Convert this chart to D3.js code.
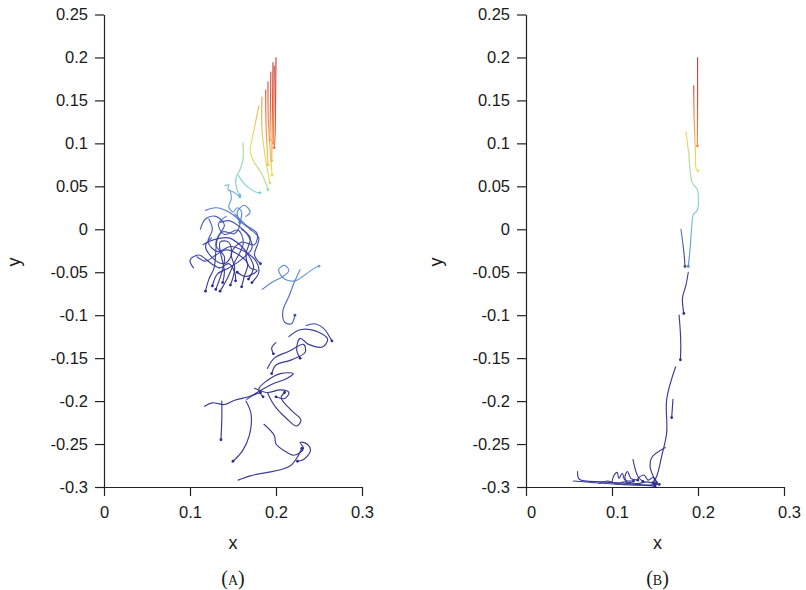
<!DOCTYPE html>
<html><head><meta charset="utf-8">
<script src="https://cdn.jsdelivr.net/npm/d3@7"></script>
<style>body{margin:0;background:#fff}</style></head>
<body><svg id="c" width="806" height="590"></svg>
<script>
// ---------- data ----------
const xTicks = [0, 0.1, 0.2, 0.3];
const xTickLabels = ["0", "0.1", "0.2", "0.3"];
const yTicks = [0.25, 0.2, 0.15, 0.1, 0.05, 0, -0.05, -0.1, -0.15, -0.2, -0.25, -0.3];
const yTickLabels = ["0.25", "0.2", "0.15", "0.1", "0.05", "0", "-0.05", "-0.1", "-0.15", "-0.2", "-0.25", "-0.3"];
const panelLabels = ["(a)", "(b)"];
const axisTitles = ["x", "y"];

// Panel A trajectories (x, y) and time fraction at start/end
const pathsA = [
  [[0.2,0.2],[0.1995,0.15],[0.199,0.11],[0.198,0.095]],
  [[0.1965,0.194],[0.196,0.15],[0.1955,0.11],[0.195,0.08]],
  [[0.194,0.183],[0.1935,0.14],[0.193,0.104]],
  [[0.1907,0.1715],[0.191,0.13],[0.193,0.095],[0.1955,0.063]],
  [[0.188,0.162],[0.1885,0.12],[0.1907,0.075]],
  [[0.198,0.19],[0.1975,0.14],[0.197,0.1]],
  [[0.1837,0.154],[0.1837,0.1157],[0.188,0.0808],[0.193,0.054]],
  [[0.18,0.1436],[0.1756,0.1215],[0.172,0.104],[0.17,0.0924],[0.173,0.081],[0.184,0.0634],[0.1907,0.046]],
  [[0.1616,0.1006],[0.1616,0.081],[0.158,0.069],[0.1535,0.06],[0.1547,0.046],[0.158,0.04]],
  [[0.156,0.063],[0.164,0.052],[0.1756,0.0436],[0.1814,0.0424]],
  [[0.1407,0.0506],[0.1453,0.0517],[0.144,0.046],[0.15,0.0436],[0.158,0.0378]],
  [[0.1465,0.046],[0.148,0.035],[0.145,0.027],[0.15,0.02],[0.155,0.025],[0.16,0.02],[0.158,0.008]],
  [[0.118,0.022],[0.13,0.025],[0.145,0.02],[0.158,0.008],[0.152,-0.005],[0.138,-0.003],[0.13,-0.018],[0.14,-0.032],[0.137,-0.05],[0.13,-0.07]],
  [[0.152,0.018],[0.165,0.005],[0.178,-0.005],[0.175,-0.018],[0.16,-0.015],[0.148,-0.028],[0.152,-0.045],[0.147,-0.065]],
  [[0.108,-0.032],[0.118,-0.037],[0.13,-0.03],[0.142,-0.024],[0.157,-0.03],[0.167,-0.04],[0.163,-0.055],[0.16,-0.067]],
  [[0.122,0.012],[0.126,0.0],[0.121,-0.015],[0.132,-0.026],[0.147,-0.02],[0.162,-0.025],[0.176,-0.036],[0.18,-0.05],[0.172,-0.062]],
  [[0.142,0.015],[0.133,0.006],[0.14,-0.006],[0.156,-0.001],[0.162,-0.016],[0.151,-0.04],[0.142,-0.06],[0.135,-0.072]],
  [[0.104,-0.045],[0.1,-0.036],[0.11,-0.03],[0.125,-0.04],[0.135,-0.045],[0.145,-0.04],[0.152,-0.05],[0.153,-0.06]],
  [[0.165,0.015],[0.17,0.02],[0.163,0.028],[0.155,0.02],[0.158,0.01],[0.17,0.0],[0.18,-0.01],[0.175,-0.03],[0.182,-0.04]],
  [[0.125,-0.01],[0.118,-0.02],[0.128,-0.035],[0.14,-0.04],[0.148,-0.03],[0.145,-0.015],[0.135,-0.015],[0.14,-0.05],[0.138,-0.062]],
  [[0.112,0.0],[0.118,0.012],[0.13,0.015],[0.14,0.005],[0.132,-0.01],[0.128,-0.045],[0.122,-0.058],[0.118,-0.072]],
  [[0.16,0.0],[0.17,-0.01],[0.165,-0.03],[0.17,-0.045],[0.178,-0.048],[0.165,-0.055],[0.155,-0.05]],
  [[0.135,0.008],[0.145,0.01],[0.155,0.005],[0.168,-0.008],[0.172,-0.022],[0.16,-0.035],[0.145,-0.045],[0.132,-0.052],[0.126,-0.066]],
  [[0.115,-0.018],[0.128,-0.012],[0.145,-0.01],[0.158,-0.018],[0.168,-0.03],[0.174,-0.044],[0.168,-0.058]],
  [[0.184,-0.07],[0.195,-0.062],[0.208,-0.055],[0.215,-0.048],[0.21,-0.042],[0.203,-0.047],[0.21,-0.058],[0.222,-0.06],[0.235,-0.052],[0.245,-0.045],[0.25,-0.043]],
  [[0.228,-0.047],[0.222,-0.06],[0.215,-0.078],[0.208,-0.095],[0.21,-0.108],[0.218,-0.11],[0.222,-0.1]],
  [[0.215,-0.125],[0.228,-0.117],[0.245,-0.118],[0.26,-0.128],[0.254,-0.137],[0.238,-0.134],[0.228,-0.127],[0.224,-0.14],[0.228,-0.15]],
  [[0.235,-0.112],[0.245,-0.11],[0.255,-0.115],[0.265,-0.13]],
  [[0.19,-0.162],[0.198,-0.15],[0.215,-0.142],[0.232,-0.134],[0.234,-0.143],[0.218,-0.152],[0.2,-0.158],[0.195,-0.168]],
  [[0.2,-0.132],[0.195,-0.138],[0.197,-0.145]],
  [[0.166,-0.198],[0.178,-0.19],[0.196,-0.18],[0.212,-0.174],[0.22,-0.168],[0.205,-0.168],[0.19,-0.176],[0.18,-0.186],[0.185,-0.195]],
  [[0.175,-0.185],[0.19,-0.19],[0.205,-0.187],[0.215,-0.19],[0.21,-0.197],[0.2,-0.195]],
  [[0.19,-0.19],[0.198,-0.205],[0.212,-0.22],[0.224,-0.229],[0.229,-0.222],[0.217,-0.21],[0.206,-0.196],[0.21,-0.19]],
  [[0.165,-0.2],[0.171,-0.215],[0.169,-0.24],[0.161,-0.258],[0.15,-0.27]],
  [[0.186,-0.227],[0.198,-0.24],[0.2,-0.25],[0.21,-0.258],[0.22,-0.263],[0.228,-0.26],[0.232,-0.255],[0.228,-0.248],[0.236,-0.25],[0.24,-0.258],[0.232,-0.268],[0.225,-0.27]],
  [[0.156,-0.292],[0.17,-0.287],[0.19,-0.283],[0.205,-0.28],[0.217,-0.275],[0.225,-0.265],[0.23,-0.255]],
  [[0.117,-0.206],[0.126,-0.202],[0.14,-0.204],[0.152,-0.199],[0.168,-0.195],[0.182,-0.19]],
  [[0.137,-0.2],[0.137,-0.22],[0.136,-0.245]]
];
const timesA = [
  [1.0,0.85],[0.97,0.78],[0.95,0.8],[0.92,0.72],[0.9,0.75],[0.96,0.82],[0.82,0.66],[0.78,0.58],[0.6,0.5],[0.52,0.5],[0.42,0.42],
  [0.4,0.3],[0.3,0.0],[0.28,0.0],[0.2,0.0],[0.25,0.0],[0.25,0.0],[0.1,0.0],[0.32,0.05],[0.15,0.0],[0.22,0.0],[0.15,0.0],[0.2,0.0],[0.15,0.0],
  [0.3,0.4],[0.35,0.2],[0.1,0.0],[0.12,0.05],[0.05,0.0],[0.05,0.0],[0.05,0.0],[0.05,0.0],[0.05,0.0],[0.05,0.0],[0.05,0.0],[0.05,0.0],[0.05,0.0],[0.05,0.0]
];

// Panel B trajectories
const pathsB = [
  [[0.1995,0.2],[0.1995,0.15],[0.1993,0.097]],
  [[0.195,0.167],[0.1955,0.13],[0.197,0.09],[0.198,0.07],[0.2,0.068]],
  [[0.186,0.1137],[0.189,0.09],[0.1934,0.0537],[0.1993,0.046],[0.1993,0.0227],[0.1945,0.0169],[0.1927,0.0033],[0.1907,-0.0238],[0.1887,-0.0433]],
  [[0.1802,0.0],[0.1837,-0.0277],[0.1849,-0.0433]],
  [[0.1887,-0.05],[0.186,-0.065],[0.182,-0.08],[0.1835,-0.098]],
  [[0.178,-0.1],[0.1795,-0.12],[0.18,-0.135],[0.1795,-0.152]],
  [[0.1709,-0.198],[0.1694,-0.2192]],
  [[0.174,-0.16],[0.1636,-0.198],[0.1636,-0.2366],[0.1578,-0.264],[0.152,-0.2874],[0.1477,-0.2948]],
  [[0.162,-0.2541],[0.1462,-0.2657],[0.1442,-0.2758],[0.15,-0.2919]],
  [[0.1244,-0.268],[0.1302,-0.2878],[0.136,-0.2936]],
  [[0.055,-0.293],[0.08,-0.295],[0.11,-0.297],[0.135,-0.298],[0.155,-0.297]],
  [[0.06,-0.282],[0.062,-0.291],[0.09,-0.294],[0.12,-0.296],[0.15,-0.299]],
  [[0.1,-0.295],[0.102,-0.287],[0.106,-0.283],[0.108,-0.29],[0.112,-0.284],[0.115,-0.292],[0.125,-0.293]],
  [[0.085,-0.296],[0.095,-0.293],[0.105,-0.296],[0.115,-0.294],[0.13,-0.296],[0.14,-0.294],[0.15,-0.296]],
  [[0.118,-0.296],[0.115,-0.288],[0.118,-0.282],[0.122,-0.29],[0.13,-0.292]],
  [[0.13,-0.29],[0.137,-0.286],[0.142,-0.292],[0.148,-0.289],[0.152,-0.295]]
];
const timesB = [
  [1.0,0.82],[0.92,0.68],[0.72,0.32],[0.3,0.1],[0.08,0.0],[0.05,0.0],[0.05,0.0],[0.05,0.0],[0.05,0.0],[0.05,0.0],
  [0.05,0.0],[0.05,0.0],[0.05,0.0],[0.05,0.0],[0.05,0.0],[0.05,0.0]
];

// ---------- style ----------
const cStops = [0.0, 0.18, 0.33, 0.44, 0.52, 0.6, 0.7, 0.8, 0.9, 1.0];
const cCols = ["#2c2c8e","#3a48aa","#5687cc","#78b6e0","#80d6cc","#a8dc8a","#eee64a","#f6a64c","#e2472f","#b83c3c"];
const color = d3.scaleLinear().domain(cStops).range(cCols).interpolate(d3.interpolateRgb).clamp(true);

const svg = d3.select("#c");
const y = d3.scaleLinear().domain([-0.3, 0.25]).range([487, 14.5]);
const panels = [
  {x: d3.scaleLinear().domain([0, 0.3]).range([104, 362]), paths: pathsA, times: timesA, lab: panelLabels[0], dx: 0},
  {x: d3.scaleLinear().domain([0, 0.3]).range([526, 784]), paths: pathsB, times: timesB, lab: panelLabels[1], dx: 5}
];
const defs = svg.append("defs");
const font = "'Liberation Sans', Arial, Helvetica, sans-serif";

panels.forEach((p, pi) => {
  const x = p.x;
  const g = svg.append("g");
  const line = d3.line().x(d => x(d[0])).y(d => y(d[1])).curve(d3.curveCatmullRom.alpha(0.5));
  p.paths.forEach((pts, i) => {
    const t = p.times[i];
    const id = "g" + pi + "_" + i;
    const a = pts[0], b = pts[pts.length - 1];
    const gr = defs.append("linearGradient").attr("id", id).attr("gradientUnits", "userSpaceOnUse")
      .attr("x1", x(a[0])).attr("y1", y(a[1])).attr("x2", x(b[0])).attr("y2", y(b[1]) + 0.01);
    gr.append("stop").attr("offset", 0).attr("stop-color", color(t[0]));
    gr.append("stop").attr("offset", 0.5).attr("stop-color", color((t[0] + t[1]) / 2));
    gr.append("stop").attr("offset", 1).attr("stop-color", color(t[1]));
    g.append("path").attr("d", line(pts)).attr("fill", "none")
      .attr("stroke", `url(#${id})`).attr("stroke-width", 1.15).attr("stroke-opacity", 0.95)
      .attr("stroke-linecap", "round").attr("stroke-linejoin", "round");
    g.append("circle").attr("cx", x(b[0])).attr("cy", y(b[1])).attr("r", 1.4).attr("fill", color(t[1]));
  });

  // axes
  const ax = svg.append("g").attr("transform", `translate(${x(0)},0)`)
    .call(d3.axisLeft(y).tickValues(yTicks).tickFormat((d, i) => yTickLabels[i]).tickSize(9).tickSizeOuter(0).tickPadding(7));
  const bx = svg.append("g").attr("transform", `translate(0,${y(-0.3)})`)
    .call(d3.axisBottom(x).tickValues(xTicks).tickFormat((d, i) => xTickLabels[i]).tickSize(9).tickSizeOuter(0).tickPadding(10));
  [ax, bx].forEach(a => {
    a.selectAll("path,line").attr("stroke", "#222").attr("stroke-width", 1.2);
    a.selectAll("text").attr("font-family", font).attr("font-size", 16.5).attr("fill", "#1a1a1a");
  });
  bx.selectAll("text").attr("dx", p.dx);

  svg.append("text").attr("x", (x(0) + x(0.3)) / 2 + p.dx / 2).attr("y", 549)
    .attr("text-anchor", "middle").attr("font-family", font).attr("font-size", 18).attr("fill", "#1a1a1a").text(axisTitles[0]);
  svg.append("text").attr("transform", `translate(${x(0) - 84},${y(-0.038)}) rotate(-90)`)
    .attr("text-anchor", "middle").attr("font-family", font).attr("font-size", 18).attr("fill", "#1a1a1a").text(axisTitles[1]);
  svg.append("text").attr("x", (x(0) + x(0.3)) / 2 + p.dx / 2).attr("y", 585)
    .attr("text-anchor", "middle").attr("font-family", "'Liberation Serif', 'Times New Roman', serif")
    .attr("font-size", 20).attr("font-variant", "small-caps").attr("fill", "#1a1a1a").text(p.lab);
});
</script></body></html>
